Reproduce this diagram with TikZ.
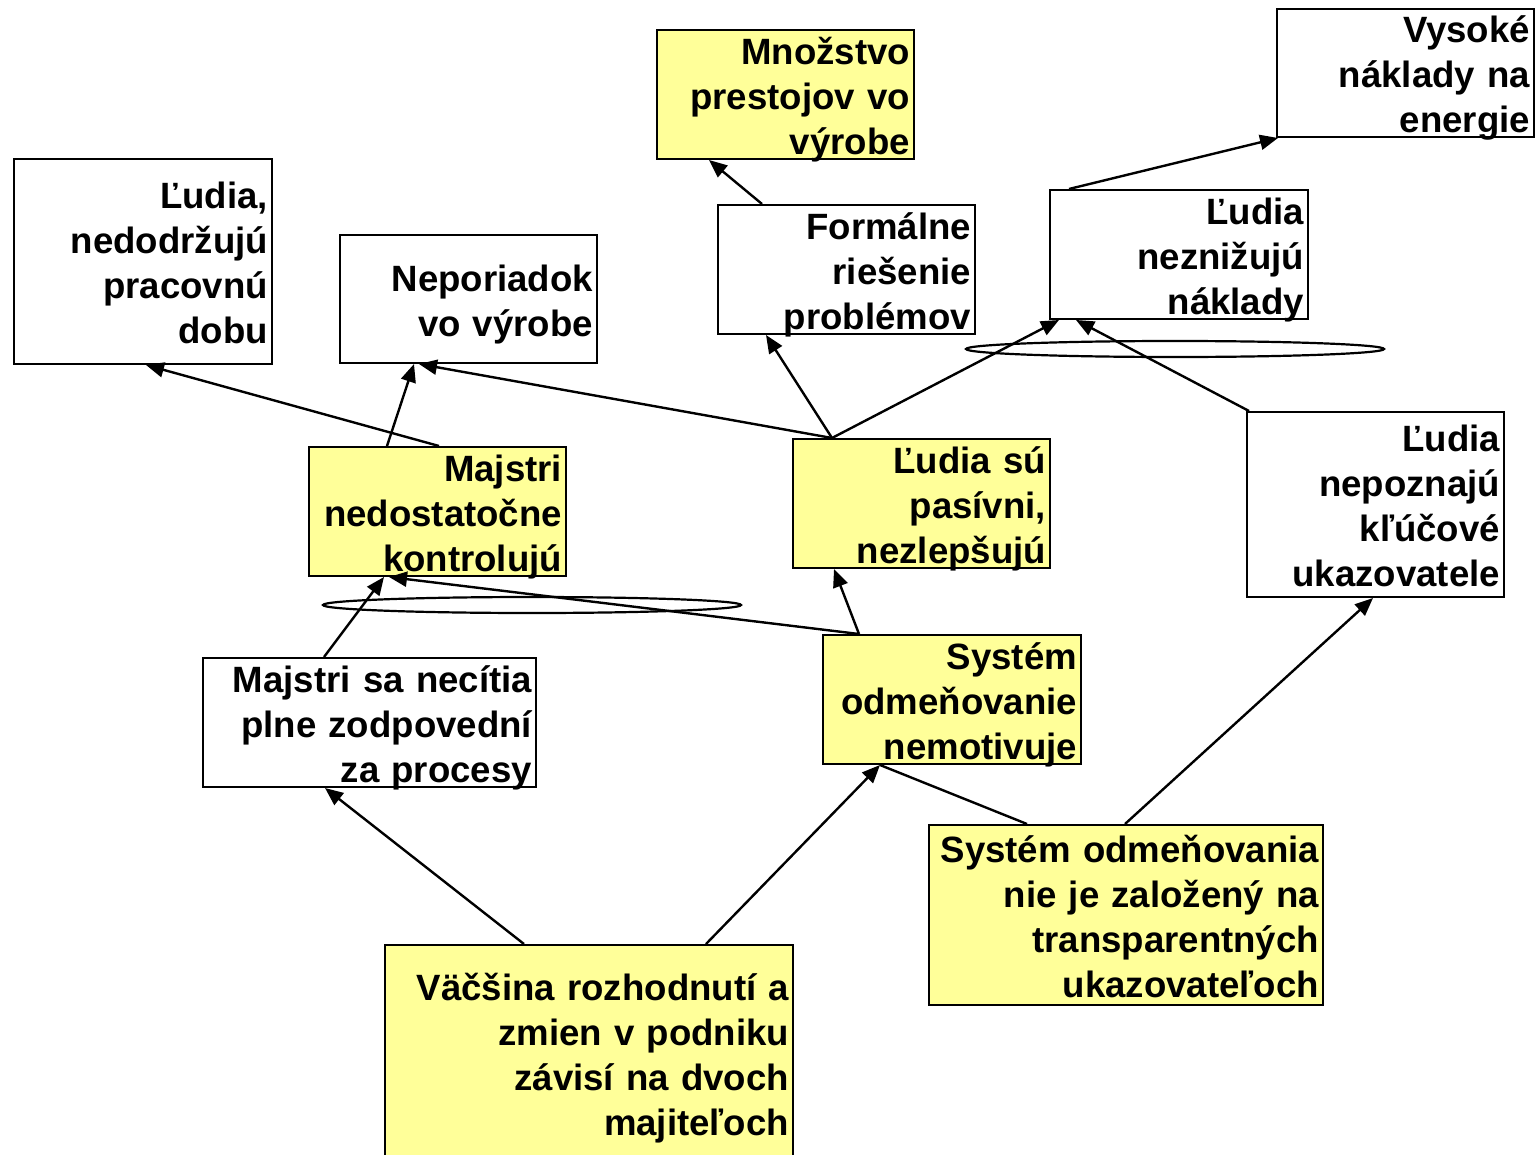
\documentclass[tikz,border=0pt]{standalone}
\usepackage{fontspec}
\setmainfont{Liberation Sans}
\usetikzlibrary{arrows.meta,calc}
\definecolor{boxyellow}{RGB}{255,255,153}
\begin{document}
\begin{tikzpicture}[x=0.5pt,y=-0.5pt,
  box/.style n args={3}{draw=black, line width=1pt, inner xsep=2pt, inner ysep=-10pt,
    align=right, font=\fontsize{18.3}{22.5}\selectfont\bfseries,
    execute at begin node={\rule{0pt}{20pt}},
    execute at end node={\rule[-5.3pt]{0pt}{5.3pt}},
    minimum width=#1pt, minimum height=#2pt, text width=#3pt},
  wbox/.style n args={3}{box={#1}{#2}{#3}, fill=white},
  ybox/.style n args={3}{box={#1}{#2}{#3}, fill=boxyellow},
  arr/.style={line width=1.2pt, -{Triangle[length=9pt,width=7.5pt]}},
  plainln/.style={line width=1.2pt},
  ell/.style={line width=1.1pt}]
\useasboundingbox (0,0) rectangle (1535,1155);

\node[wbox={129}{102.5}{125}] (b1) at (143,261.5) {Ľudia,\\ nedodržujú\\ pracovnú\\ dobu};
\node[wbox={128.5}{64}{124.5}] (b2) at (468.5,299) {Neporiadok\\ vo výrobe};
\node[ybox={128.5}{64.5}{124.5}] (m3) at (785.5,94.5) {Množstvo\\ prestojov vo\\ výrobe};
\node[wbox={128.5}{64.5}{124.5}] (b4) at (846.5,269.5) {Formálne\\ riešenie\\ problémov};
\node[wbox={128.5}{64}{124.5}] (b5) at (1405.5,73) {Vysoké\\ náklady na\\ energie};
\node[wbox={129}{64.5}{125}] (b6) at (1179,254.5) {Ľudia\\ neznižujú\\ náklady};
\node[ybox={128.5}{64.5}{124.5}] (m7) at (437.5,511.5) {Majstri\\ nedostatočne\\ kontrolujú};
\node[ybox={128.5}{64.5}{124.5}] (m8) at (921.5,503.5) {Ľudia sú\\ pasívni,\\ nezlepšujú};
\node[wbox={128.5}{92.5}{124.5}] (b9) at (1375.5,504.5) {Ľudia\\ nepoznajú\\ kľúčové\\ ukazovatele};
\node[wbox={166.5}{64.5}{162.5}] (b10) at (369.5,722.5) {Majstri sa necítia\\ plne zodpovední\\ za procesy};
\node[ybox={129}{64.5}{125}] (m11) at (952,699.5) {Systém\\ odmeňovanie\\ nemotivuje};
\node[ybox={197}{90}{193}] (m12) at (1126,915) {Systém odmeňovania\\ nie je založený na\\ transparentných\\ ukazovateľoch};
\node[ybox={204}{108}{200}] (m13) at (589,1053) {Väčšina rozhodnutí a\\ zmien v podniku\\ závisí na dvoch\\ majiteľoch};

\draw[ell] (532,605) ellipse [x radius=104.5pt, y radius=4pt];
\draw[ell] (1175,349) ellipse [x radius=104.5pt, y radius=4pt];

\draw[arr] ($(m7.north west)+(131,0)$) -- ($(b1.south west)+(133,0)$);
\draw[arr] ($(m7.north west)+(79,0)$) -- ($(b2.south west)+(75,0)$);
\draw[arr] ($(m8.north west)+(40,0)$) -- ($(b2.south west)+(80,0)$);
\draw[arr] ($(m8.north west)+(40,0)$) -- ($(b4.south west)+(49,0)$);
\draw[arr] ($(m8.north west)+(40,0)$) -- ($(b6.south west)+(10,0)$);
\draw[arr] ($(b9.north west)+(3,0)$) -- ($(b6.south west)+(27,0)$);
\draw[arr] ($(b4.north west)+(45,0)$) -- ($(m3.south west)+(53,0)$);
\draw[arr] ($(b6.north west)+(20,0)$) -- ($(b5.south west)+(2,0)$);
\draw[arr] ($(b10.north west)+(122,0)$) -- ($(m7.south west)+(76,0)$);
\draw[arr] ($(m11.north west)+(37,0)$) -- ($(m7.south west)+(81,0)$);
\draw[arr] ($(m11.north west)+(37,0)$) -- ($(m8.south west)+(42,0)$);
\draw[arr] ($(m13.north west)+(140,0)$) -- ($(b10.south west)+(123,0)$);
\draw[arr] ($(m13.north west)+(322,0)$) -- ($(m11.south west)+(58,0)$);
\draw[plainln] ($(m12.north west)+(99,0)$) -- ($(m11.south west)+(58,0)$);
\draw[arr] ($(m12.north west)+(197,0)$) -- ($(b9.south west)+(127,0)$);
\end{tikzpicture}
\end{document}
